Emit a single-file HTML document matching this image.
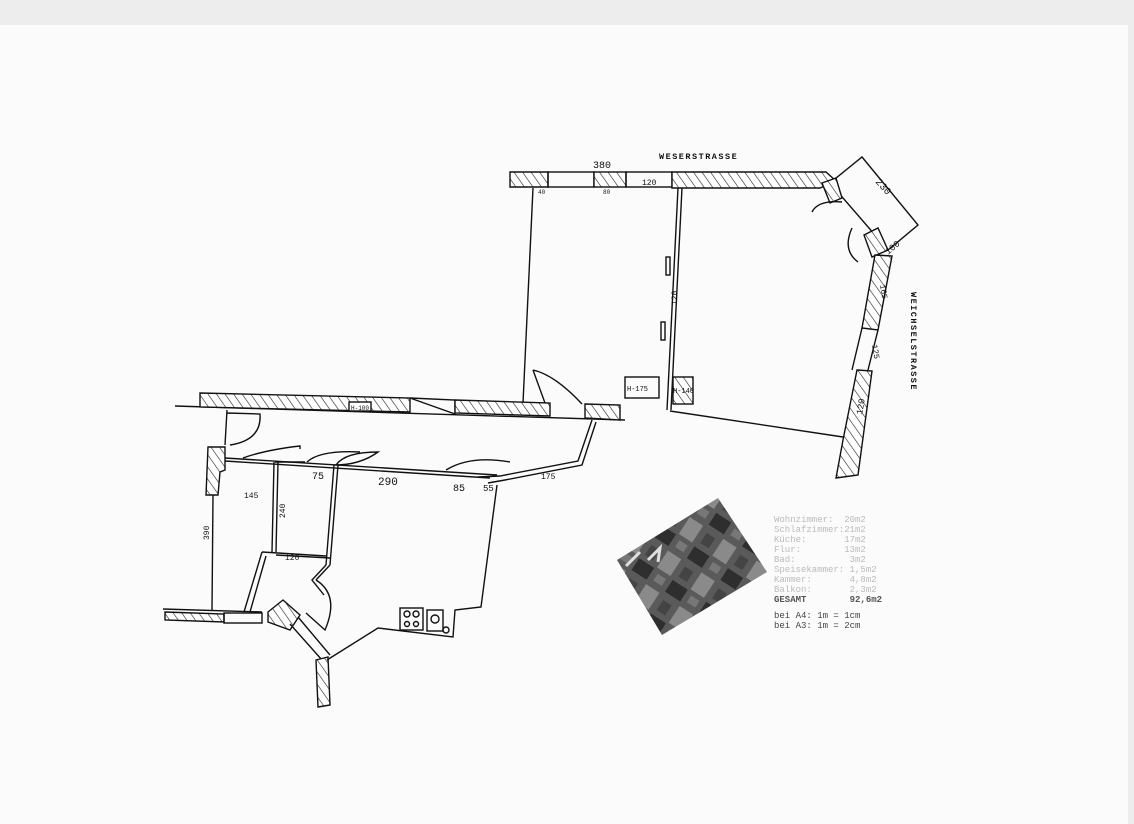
<!DOCTYPE html>
<html><head><meta charset="utf-8"><style>
html,body{margin:0;padding:0;width:1134px;height:824px;overflow:hidden;background:#ededed}
svg{display:block}
text{font-family:"Liberation Mono",monospace}
.lg text{white-space:pre}
</style></head><body>
<svg width="1134" height="824" viewBox="0 0 1134 824" xmlns="http://www.w3.org/2000/svg">
<defs>
<pattern id="h" width="7" height="7" patternUnits="userSpaceOnUse" patternTransform="rotate(-35)">
<rect width="7" height="7" fill="#fff"/><line x1="0" y1="0" x2="0" y2="7" stroke="#222" stroke-width="1.2"/></pattern>
<pattern id="ph" width="40" height="40" patternUnits="userSpaceOnUse" patternTransform="rotate(33)">
<rect width="40" height="40" fill="#5a5a5a"/><rect x="0" y="0" width="18" height="14" fill="#2e2e2e"/><rect x="20" y="18" width="16" height="20" fill="#8a8a8a"/><rect x="3" y="22" width="10" height="12" fill="#444"/><rect x="24" y="3" width="10" height="8" fill="#777"/></pattern>
</defs>
<rect x="0" y="25" width="1128" height="799" fill="#fbfbfb"/>
<g stroke="#111" stroke-width="1.4" fill="none">
<polygon points="510,172 548,172 548,187 510,187" fill="url(#h)"/>
<rect x="548" y="172" width="46" height="15"/>
<rect x="594" y="172" width="32" height="15" fill="url(#h)"/>
<rect x="626" y="172" width="46" height="15"/>
<polygon points="672,172 826,172 836,181 820,188 672,188" fill="url(#h)"/>
<polygon points="862,157 918,225 888,250 830,183"/>
<polygon points="822,183 836,178 842,198 830,203" fill="url(#h)"/>
<polygon points="864,235 878,228 888,250 872,257" fill="url(#h)"/>
<path d="M842,202 Q818,200 812,212 M852,228 Q842,250 858,262"/>
<polygon points="875,255 892,256 878,330 862,328" fill="url(#h)"/>
<line x1="862" y1="328" x2="852" y2="370"/><line x1="878" y1="330" x2="868" y2="370"/>
<polygon points="857,370 872,371 858,475 836,478 843,440" fill="url(#h)"/>
<line x1="670" y1="411" x2="843" y2="437"/>
<line x1="533" y1="188" x2="523" y2="403"/>
<line x1="678" y1="188" x2="667" y2="410"/><line x1="682" y1="188" x2="671" y2="410"/>
<rect x="666" y="257" width="4" height="18"/><rect x="661" y="322" width="4" height="18"/>
<rect x="625" y="377" width="34" height="21"/>
<rect x="673" y="377" width="20" height="27" fill="url(#h)"/>
<line x1="175" y1="406" x2="625" y2="420"/>
<polygon points="200,393 410,398 410,412 200,407" fill="url(#h)"/>
<rect x="349" y="402" width="22" height="9" fill="#fff"/>
<polygon points="410,398 455,400 455,414"/>
<polygon points="455,400 550,403 550,416 455,413" fill="url(#h)"/>
<polygon points="585,404 620,405 620,420 585,418" fill="url(#h)"/>
<path d="M533,370 L545,403 M533,370 Q555,375 582,404"/>
<path d="M227,410 L225,445 M227,413 L260,414 Q262,440 230,445"/>
<polygon points="208,447 225,447 225,470 220,472 218,495 206,495" fill="url(#h)"/>
<line x1="213" y1="495" x2="212" y2="610"/>
<line x1="225" y1="458" x2="497" y2="475"/><line x1="225" y1="461" x2="490" y2="478"/>
<path d="M243,458 Q265,450 300,446 L300,449 M275,462 L305,462 M307,462 Q320,450 360,452 M336,465 Q345,452 378,452 Q360,465 335,465 M446,470 Q470,455 510,462"/>
<line x1="274" y1="462" x2="272" y2="552"/><line x1="278" y1="462" x2="276" y2="552"/>
<line x1="334" y1="465" x2="326" y2="565"/><line x1="338" y1="465" x2="330" y2="565"/>
<line x1="276" y1="555" x2="330" y2="558"/>
<path d="M262,552 L244,612 M266,556 L250,612 M262,552 L326,556 M326,565 L312,580 L324,595 M330,565 L316,580"/>
<path d="M316,580 Q340,595 325,630 L306,613"/>
<line x1="163" y1="609" x2="262" y2="612"/>
<polygon points="165,612 224,614 224,622 165,620" fill="url(#h)"/>
<rect x="224" y="613" width="38" height="10"/>
<polygon points="268,612 283,600 300,615 290,630 268,622" fill="url(#h)"/>
<path d="M290,624 L322,660 M298,617 L330,655"/>
<polygon points="316,660 328,657 330,705 318,707" fill="url(#h)"/>
<path d="M497,485 L481,607 L455,610 L453,637 L378,628 L327,660"/>
<path d="M478,477 L500,476 L578,461 L592,420 M488,483 L505,480 L582,465 L596,422"/>
<rect x="400" y="608" width="23" height="22"/><rect x="427" y="610" width="16" height="21"/>
<circle cx="407" cy="614" r="3"/><circle cx="416" cy="614" r="3"/><circle cx="407" cy="624" r="2.5"/><circle cx="416" cy="624" r="2.5"/>
<circle cx="435" cy="619" r="4"/><circle cx="446" cy="630" r="3"/>
</g>
<g font-size="8" fill="#111">
<text x="659" y="159" font-size="8.5" font-family="Liberation Sans" font-weight="bold" letter-spacing="1.5">WESERSTRASSE</text>
<text x="593" y="168" font-size="10">380</text>
<text x="642" y="185">120</text>
<text x="603" y="194" font-size="6">80</text>
<text x="538" y="194" font-size="6">40</text>
<text x="627" y="391" font-size="7">H-175</text>
<text x="673" y="393" font-size="7">H-140</text>
<text x="351" y="410" font-size="6">H-100</text>
<text x="244" y="498">145</text>
<text x="285" y="560" font-size="8">120</text>
<text x="312" y="479" font-size="10">75</text>
<text x="378" y="485" font-size="11">290</text>
<text x="453" y="491" font-size="10">85</text>
<text x="483" y="491" font-size="9">55</text>
<text x="541" y="479" font-size="8">175</text>
<text transform="translate(209,540) rotate(-90)">390</text>
<text transform="translate(285,518) rotate(-90)">240</text>
<text transform="translate(677,305) rotate(-90)">120</text>
<text transform="translate(875,182) rotate(48)" font-size="10">230</text>
<text transform="translate(888,255) rotate(-40)" font-size="9">100</text>
<text transform="translate(862,415) rotate(-80)" font-size="9">120</text>
<text transform="translate(872,345) rotate(80)">125</text>
<text transform="translate(880,285) rotate(80)">165</text>
<text transform="translate(911,292) rotate(90)" font-size="8.5" font-family="Liberation Sans" font-weight="bold" letter-spacing="1.5">WEICHSELSTRASSE</text>
</g>
<polygon points="718,498 767,572 662,635 617,560" fill="url(#ph)"/>
<path d="M626,566 L640,552 M648,560 L660,548 L658,562" stroke="#ddd" stroke-width="3" fill="none"/>
<g class="lg" font-size="9" fill="#bbb">
<text x="774" y="522">Wohnzimmer:  20m2</text>
<text x="774" y="532">Schlafzimmer:21m2</text>
<text x="774" y="542">Küche:       17m2</text>
<text x="774" y="552">Flur:        13m2</text>
<text x="774" y="562">Bad:          3m2</text>
<text x="774" y="572">Speisekammer: 1,5m2</text>
<text x="774" y="582">Kammer:       4,8m2</text>
<text x="774" y="592">Balkon:       2,3m2</text>
<text x="774" y="602" fill="#555" font-weight="bold">GESAMT        92,6m2</text>
<text x="774" y="618" fill="#444">bei A4: 1m = 1cm</text>
<text x="774" y="628" fill="#444">bei A3: 1m = 2cm</text>
</g>
</svg>
</body></html>
